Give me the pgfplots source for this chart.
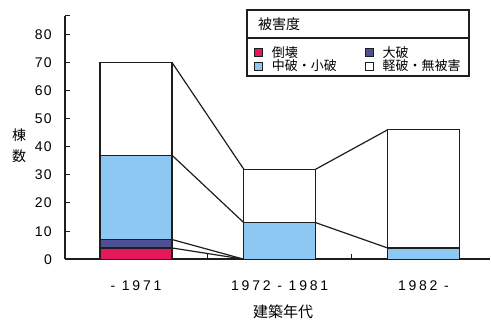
\documentclass[border=0pt]{standalone}
\usepackage{fontspec}
\usepackage{pgfplots}
\usepackage{pgfplotstable}
\pgfplotsset{compat=1.18}
\setmainfont{Liberation Sans}
\newfontfamily\jp{Noto Sans CJK JP}
\newfontfamily\numx[LetterSpace=20]{Liberation Sans}
\newfontfamily\numy[LetterSpace=10]{Liberation Sans}

\definecolor{collapse}{HTML}{E5195A}
\definecolor{major}{HTML}{4F4F95}
\definecolor{moderate}{HTML}{8DC8F2}
\definecolor{edge}{HTML}{1E1E1E}

% buildings by construction period and damage grade
\pgfplotstableread{
x collapse major moderate minor
0 4 3 30 33
1 0 0 13 19
2 0 0 4  42
}\damage

\pgfplotsset{
  frame/.style={
    scale only axis, width=425pt, height=243.2pt,
    xmin=-0.494, xmax=2.463, ymin=0, ymax=86.5,
  },
}

\begin{document}
\begin{tikzpicture}
% lines joining the class boundaries of neighbouring bars
\begin{axis}[frame, hide axis]
  \addplot[edge, line width=1.2pt] coordinates {(0.25,70) (0.75,32)};
  \addplot[edge, line width=1.2pt] coordinates {(0.25,37) (0.75,13)};
  \addplot[edge, line width=1.2pt] coordinates {(0.25,7) (0.75,0)};
  \addplot[edge, line width=1.2pt] coordinates {(0.25,4) (0.75,0)};
  \addplot[edge, line width=1.2pt] coordinates {(1.25,32) (1.75,46)};
  \addplot[edge, line width=1.2pt] coordinates {(1.25,13) (1.75,4)};
\end{axis}
\begin{axis}[frame,
  ybar stacked, bar width=0.5,
  axis lines=left,
  axis line style={-, line width=1.4pt, edge},
  tick align=inside, major tick length=5pt,
  every tick/.style={edge, line width=1pt},
  /pgf/number format/assume math mode=true,
  ytick={0,10,...,80},
  extra y ticks={86.5}, extra y tick labels={},
  yticklabel style={font=\numy\fontsize{14}{16}\selectfont, anchor=base east,
    inner sep=0pt, xshift=-13pt, yshift=-5pt},
  xtick={0.5,1.5}, xticklabels={},
  extra x ticks={0,1,2},
  extra x tick labels={- 1971, 1972 - 1981, 1982 -},
  extra x tick style={major tick length=0pt, xtick style={draw=none}},
  xticklabel style={font=\numx\fontsize{14}{16}\selectfont, anchor=base,
    inner sep=0pt, yshift=-31pt},
  ylabel={棟\\数},
  ylabel style={rotate=-90, align=center, font=\jp\fontsize{14}{21}\selectfont,
    at={(axis description cs:-0.108,0.465)}, anchor=center},
  xlabel={建築年代},
  xlabel style={font=\jp\fontsize{15}{16}\selectfont,
    at={(axis description cs:0.513,-0.217)}, anchor=center},
  legend columns=2,
  legend cell align=left,
  legend style={draw=none, fill=none, inner sep=0pt, row sep=-3pt,
    at={(axis description cs:0.445,0.885)}, anchor=north west,
    font=\jp\fontsize{13}{14}\selectfont,
    /tikz/every odd column/.append style={column sep=7pt},
    /tikz/every even column/.append style={column sep=26pt}},
  legend image code/.code={\draw[#1, draw=edge, line width=0.6pt] (0pt,-4pt) rectangle (8pt,4pt);},
  every axis plot/.append style={draw=edge, line width=1.2pt},
]
  \addplot[fill=collapse] table[x=x, y=collapse] {\damage};
  \addplot[fill=major] table[x=x, y=major] {\damage};
  \addplot[fill=moderate] table[x=x, y=moderate] {\damage};
  \addplot[fill=white] table[x=x, y=minor] {\damage};
  \legend{倒壊, 大破, 中破・小破, 軽破・無被害}
\end{axis}
% legend frame with its heading
\draw[edge, line width=1.1pt] (182pt,183.2pt) rectangle (404pt,249.2pt);
\draw[edge, line width=1.4pt] (182pt,221.2pt) -- (404pt,221.2pt);
\node[anchor=west, inner sep=0pt, font=\jp\fontsize{14}{16}\selectfont] at (193pt,235.2pt) {被害度};
\pgfresetboundingbox
\path[use as bounding box] (-65pt,-60.8pt) rectangle (426pt,259.2pt);
\end{tikzpicture}
\end{document}
